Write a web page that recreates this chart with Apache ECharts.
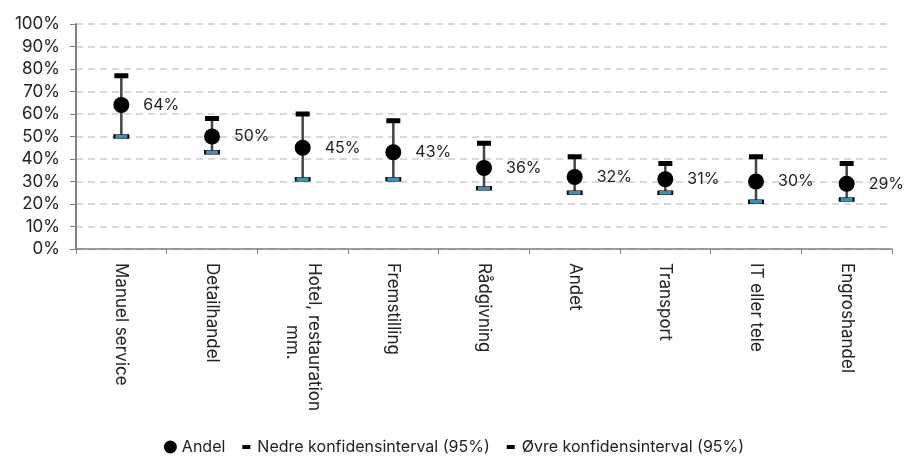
<!DOCTYPE html>
<html>
<head>
<meta charset="utf-8">
<script src="https://cdn.jsdelivr.net/npm/echarts@6/dist/echarts.min.js"></script>
<style>
  html, body { margin: 0; padding: 0; background: #fff; }
  #chart { width: 908px; height: 466px; }
</style>
</head>
<body>
<div id="chart"></div>
<script>
const categories = ['Manuel service', 'Detailhandel', 'Hotel, restauration\nmm.', 'Fremstilling', 'Rådgivning', 'Andet', 'Transport', 'IT eller tele', 'Engroshandel']
const andel = [0.64, 0.50, 0.45, 0.43, 0.36, 0.32, 0.31, 0.30, 0.29]
const nedre = [0.50, 0.43, 0.31, 0.31, 0.27, 0.25, 0.25, 0.21, 0.22]
const oevre = [0.77, 0.58, 0.60, 0.57, 0.47, 0.41, 0.38, 0.41, 0.38]

const font = 'Inter, Liberation Sans, Arial, sans-serif'

let chart = echarts.init(document.getElementById('chart'))

// second line of a wrapped label is centred under the first one
function wrapLabel(v) {
  const parts = v.split('\n')
  if (parts.length < 2) return v
  return parts[0] + '\n{c|' + parts[1] + '}'
}

// small dash inside a square box, so the legend keeps it small
const dashIcon = 'path://M0,0L0.01,0M13,13L13.01,13M3,4.5H11V8.5H3Z'

const option = {
  animation: false,
  textStyle: { fontFamily: font },
  grid: { left: 76, right: 16, top: 24, bottom: 217 },
  legend: {
    bottom: 6,
    left: 'center',
    itemGap: 14,
    itemWidth: 13,
    itemHeight: 13,
    textStyle: { fontSize: 16, color: '#222', fontFamily: font },
    data: [
      { name: 'Andel', icon: 'circle' },
      { name: 'Nedre konfidensinterval (95%)', icon: dashIcon, itemStyle: { color: '#000', borderWidth: 0 } },
      { name: 'Øvre konfidensinterval (95%)', icon: dashIcon, itemStyle: { color: '#000' } }
    ]
  },
  xAxis: {
    type: 'category',
    data: categories,
    axisLine: { lineStyle: { color: '#808080', width: 1.5 } },
    axisTick: { show: true, length: 5, lineStyle: { color: '#808080' } },
    axisLabel: {
      rotate: -90, color: '#222', fontSize: 17, margin: 14, interval: 0, align: 'left', lineHeight: 22,
      formatter: wrapLabel,
      rich: { c: { fontSize: 17, color: '#222', fontFamily: font, padding: [0, 0, 0, 62], lineHeight: 22 } }
    }
  },
  yAxis: {
    type: 'value',
    min: 0,
    max: 1,
    interval: 0.1,
    axisLine: { show: true, lineStyle: { color: '#808080', width: 2 } },
    axisTick: { show: true, length: 6, lineStyle: { color: '#808080' } },
    axisLabel: {
      color: '#222', fontSize: 17, margin: 16,
      formatter: v => Math.round(v * 100) + '%'
    },
    splitLine: { lineStyle: { color: '#d9d9d9', type: [7, 5], width: 2 } }
  },
  series: [
    {
      name: 'whisker',
      type: 'custom',
      z: 1,
      data: categories.map((c, i) => [i, nedre[i], oevre[i]]),
      renderItem(params, api) {
        const lo = api.coord([api.value(0), api.value(1)])
        const hi = api.coord([api.value(0), api.value(2)])
        return {
          type: 'line',
          shape: { x1: lo[0], y1: lo[1], x2: hi[0], y2: hi[1] },
          style: { stroke: '#444', lineWidth: 2.5 }
        }
      }
    },
    {
      name: 'Nedre konfidensinterval (95%)',
      type: 'scatter',
      z: 3,
      symbol: 'rect',
      symbolSize: [14, 4],
      itemStyle: { color: '#3d8fb5', borderColor: '#000', borderWidth: 1, opacity: 1 },
      data: nedre
    },
    {
      name: 'Øvre konfidensinterval (95%)',
      type: 'scatter',
      z: 3,
      symbol: 'rect',
      symbolSize: [14, 5],
      itemStyle: { color: '#000', opacity: 1 },
      data: oevre
    },
    {
      name: 'Andel',
      type: 'scatter',
      z: 4,
      symbol: 'circle',
      symbolSize: 16,
      itemStyle: { color: '#000', opacity: 1 },
      label: {
        show: true,
        position: 'right',
        distance: 14,
        color: '#222',
        fontSize: 16,
        fontFamily: font,
        formatter: p => Math.round(p.value * 100) + '%'
      },
      data: andel
    }
  ]
}

chart.setOption(option)
</script>
</body>
</html>
